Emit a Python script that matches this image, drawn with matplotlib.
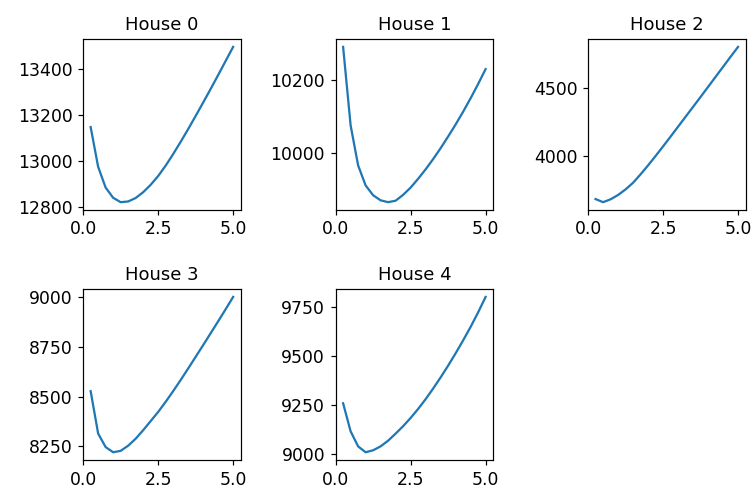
import matplotlib
matplotlib.use("Agg")
import matplotlib.pyplot as plt
from matplotlib.ticker import MultipleLocator, MaxNLocator

# penalty parameter grid shared by all houses
alphas = [0.25, 0.5, 0.75, 1.0, 1.25, 1.5, 1.75, 2.0, 2.25, 2.5,
          2.75, 3.0, 3.25, 3.5, 3.75, 4.0, 4.25, 4.5, 4.75, 5.0]

house_0 = [13147, 12975, 12885, 12841, 12822, 12825, 12840, 12865, 12897, 12935,
           12980, 13030, 13083, 13138, 13195, 13253, 13312, 13372, 13433, 13494]
house_1 = [10292, 10077, 9967, 9912, 9885, 9871, 9866, 9870, 9886, 9906,
           9930, 9956, 9984, 10014, 10046, 10079, 10114, 10151, 10190, 10231]
house_2 = [3685, 3662, 3683, 3715, 3756, 3805, 3867, 3933, 4002, 4073,
           4145, 4218, 4291, 4364, 4437, 4511, 4585, 4659, 4733, 4806]
house_3 = [8527, 8313, 8245, 8219, 8226, 8252, 8287, 8330, 8376, 8422,
           8473, 8527, 8583, 8641, 8700, 8759, 8819, 8879, 8940, 9002]
house_4 = [9257, 9114, 9037, 9007, 9017, 9037, 9066, 9102, 9140, 9182,
           9228, 9278, 9332, 9389, 9449, 9512, 9578, 9647, 9721, 9800]

houses = [house_0, house_1, house_2, house_3, house_4]

fig, axes = plt.subplots(2, 3, figsize=(752 / 108, 489 / 108), dpi=108)
fig.subplots_adjust(left=0.1105, right=0.9915, top=0.920, bottom=0.0593,
                    wspace=0.602, hspace=0.464)

for i, ax in enumerate(axes.flat):
    if i >= len(houses):
        ax.remove()
        continue
    ax.plot(alphas, houses[i])
    ax.set_title(f"House {i}", fontsize=12)
    ax.margins(x=0.053)
    ax.xaxis.set_major_locator(MultipleLocator(2.5))
    ax.yaxis.set_major_locator(MaxNLocator(nbins=4, steps=[1, 2, 2.5, 5, 10]))
    ax.tick_params(labelsize=11.5)

fig.savefig("out.png", dpi=108)
